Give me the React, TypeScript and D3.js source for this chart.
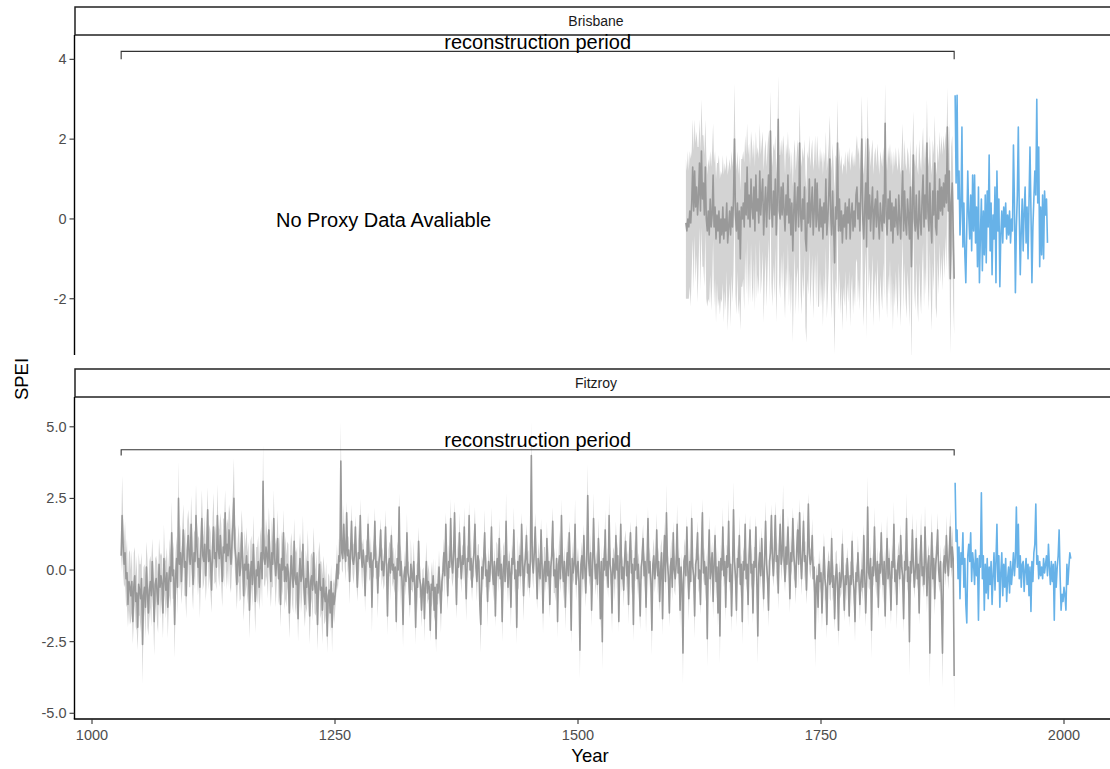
import React from 'react';
import * as d3 from 'd3';

// ---------------- DATA ----------------
const xTicks = [1000, 1250, 1500, 1750, 2000];
const brisbaneYTicks = [-2, 0, 2, 4];
const fitzroyYTicks = [-5, -2.5, 0, 2.5, 5];
const periodStart = 1030;
const periodEnd = 1887;

const fitzroyReconStart = 1030;
const fitzroyRecon = [
  0.5, 1.9, 0.9, 0.2, 0.6, -0.3, -0.1, -1.2, -0.4, -0.6,
  -0.9, -0.4, -1.8, -0.6, -0.2, -1.1, -0.8, -2.0, -0.5, -0.7,
  -1.0, -0.3, -2.6, -0.9, -0.6, -1.3, 0.1, -0.8, -1.5, -0.7,
  -0.4, -0.9, 0.3, -0.7, -1.8, -0.5, -0.3, -0.8, -1.2, 0.2,
  -0.6, -0.2, -0.5, -1.5, 0.4, -0.3, -0.7, -0.1, -1.3, -0.4,
  0.1, -0.4, 1.3, -0.2, 0.0, -1.9, -0.3, 0.4, -0.6, 2.5,
  0.2, 0.6, -0.4, 0.5, 1.4, 0.1, 0.3, -0.9, 0.7, 1.2,
  0.5, 0.2, 1.6, 0.4, -0.5, 0.6, 0.3, 1.9, 0.8, 0.1,
  0.4, -0.6, 0.7, 1.8, 0.5, 0.3, 0.9, -0.2, 0.6, 2.1,
  0.3, 0.7, 0.2, -0.7, 0.8, 1.5, 0.4, 0.6, 0.1, 1.9,
  0.7, 0.4, 1.2, 0.5, -0.4, 0.8, 0.6, 2.0, 0.3, 0.9,
  0.5, 1.4, 0.7, 0.2, 0.9, 1.6, 2.5, 0.8, 0.4, -0.5,
  0.3, 0.6, -0.2, 0.1, 1.3, 0.4, -0.9, 0.2, 0.0, 0.5,
  -0.3, 0.2, -1.4, -0.1, 0.3, -0.5, 0.9, -0.2, -1.1, 0.0,
  -0.2, 0.3, -0.6, 0.1, 0.6, -0.3, 3.1, 0.4, 0.2, 0.8,
  0.5, 0.1, 1.4, 0.3, -0.4, 0.6, 0.2, 1.8, 0.4, -0.2,
  0.3, 1.1, -0.3, 0.2, -1.2, 0.4, 0.0, 1.3, -0.4, 0.1,
  -0.4, 0.2, -0.1, -1.5, -0.3, 0.5, -0.2, -0.6, 1.0, -0.3,
  -0.5, -0.1, -1.7, -0.3, 0.4, -0.4, -0.2, 0.9, -0.6, -1.2,
  -0.3, -0.6, 0.3, -0.5, -1.6, -0.4, -0.2, -0.7, 0.6, -0.5,
  -0.8, -0.4, -1.9, -0.5, 0.2, -0.7, -0.6, -1.4, -0.3, -0.9,
  -1.1, -0.6, -2.3, -0.9, -0.7, -1.5, -0.4, -2.0, -0.8, -1.2,
  -0.9, -0.5, 0.2, -0.3, 0.5, 0.3, 3.8, 0.6, 0.4, 1.6,
  0.6, 0.3, 2.0, 0.5, 0.7, -0.4, 0.6, 1.7, 0.4, 0.2,
  0.5, 1.5, 0.3, -0.6, 0.6, 0.4, 1.9, 0.5, 0.1, 0.7,
  0.2, -0.9, 0.5, 0.3, 1.6, 0.4, 0.1, 0.6, -1.3, 0.3,
  0.4, 1.7, 0.1, 0.3, -0.8, 0.2, 0.5, 1.4, 0.0, 0.3,
  -0.2, 0.3, 1.5, 0.1, -1.6, 0.2, 0.4, -0.1, 1.2, 0.0,
  0.2, -0.3, 0.1, -1.8, 0.4, 0.0, 2.2, -0.2, 0.3, -0.4,
  -1.9, -0.2, 0.1, -0.4, 1.3, -0.1, -0.3, -1.2, 0.2, -0.2,
  -0.4, 0.3, -0.5, -2.0, -0.2, -0.6, 1.0, -0.3, -0.5, -1.4,
  -0.6, -0.3, -1.7, -0.5, 0.3, -0.8, -0.4, -0.6, -2.1, -0.5,
  -0.7, -0.2, -1.4, -0.6, -2.4, -0.5, -0.8, 0.1, -0.7, -1.5,
  -0.4, -0.1, 0.6, -0.2, 1.6, 0.2, -0.9, 0.3, 0.1, 1.8,
  0.3, -0.1, 0.5, 2.0, 0.2, -1.2, 0.4, 0.1, 1.3, 0.3,
  -0.3, 0.5, 0.2, 1.5, 0.1, -1.0, 0.4, 0.3, 1.9, 0.0,
  0.4, -0.6, 0.2, 0.6, 1.6, 0.1, -0.4, 0.5, 0.3, -1.2,
  -1.9, 0.1, -0.3, 0.4, 1.3, -0.2, 0.0, -1.1, 0.3, -0.4,
  0.2, 1.5, -0.1, -0.5, 0.3, -1.6, 0.1, 0.4, -0.2, 1.1,
  -0.3, 0.2, -1.8, 0.0, 0.5, -0.4, 1.7, 0.1, -0.6, 0.3,
  -0.1, -1.3, 0.4, 0.2, 1.4, -0.3, 0.0, -2.0, 0.3, -0.2,
  0.5, -0.2, 1.6, 0.3, -0.9, 0.1, 0.4, 1.2, -0.1, 0.2,
  -0.6, 0.4, 4.0, 0.3, -0.1, 0.6, 1.5, 0.2, -1.0, 0.4,
  0.1, -0.3, 1.4, 0.2, -1.5, 0.0, 0.3, -0.4, 1.1, -0.2,
  0.3, -1.2, 0.1, 0.5, 1.7, -0.2, 0.0, -0.6, 0.4, -1.8,
  0.2, 0.5, -0.3, 1.9, 0.1, -0.4, 0.3, -1.3, 0.0, 0.6,
  -0.2, 1.3, 0.1, -2.1, 0.4, -0.1, 0.2, 1.6, -0.5, 0.0,
  0.3, -0.4, -2.8, 0.2, 0.5, -0.3, 1.2, 0.1, -0.8, 0.4,
  2.6, 0.3, -0.2, 0.6, -1.4, 0.1, 1.8, 0.4, -0.3, 0.2,
  -0.5, 1.1, 0.2, -1.7, 0.3, -2.5, 0.4, 0.0, 1.4, -0.2,
  0.3, -0.6, 1.9, 0.2, -0.1, -1.5, 0.4, 0.1, -0.3, 1.2,
  0.0, 0.5, -1.8, 0.2, 1.6, -0.3, 0.1, -0.7, 0.4, 1.0,
  -0.2, 0.3, -1.2, 0.5, 1.3, -0.1, 0.2, -1.9, 0.4, 0.0,
  1.5, -0.3, 0.2, -0.5, -1.6, 0.1, 0.4, 1.1, -0.2, 0.3,
  -1.3, 0.2, 1.8, -0.1, 0.3, -0.4, -2.1, 0.2, 0.5, -0.3,
  0.1, 1.4, -0.2, 0.3, -1.1, 0.0, 0.6, -1.7, 0.2, 1.2,
  -0.4, 2.0, 0.3, -0.2, -1.5, 0.1, 0.4, -0.6, 1.3, 0.0,
  -0.3, 0.2, 1.6, -0.1, 0.4, -1.4, 0.1, -0.5, -2.9, 0.3,
  0.5, -0.2, 1.5, 0.0, -1.0, 0.3, -0.4, 1.8, 0.1, -0.2,
  -1.6, 0.2, 0.4, 1.3, -0.3, 0.0, -1.2, 0.5, 2.0, -0.1,
  0.3, -0.5, 0.1, -2.4, 0.2, 1.4, -0.3, 0.0, 0.6, -1.1,
  0.2, 1.2, -0.4, 0.1, -1.5, 0.3, -2.3, 0.4, 0.0, 1.5,
  -0.2, 0.3, -1.3, 0.5, 0.1, 1.7, -0.4, 0.2, -1.6, 0.0,
  2.1, 0.3, -0.2, -1.4, 0.4, 0.1, 1.2, -0.5, 0.2, -1.8,
  0.3, 0.0, 1.6, -0.3, 0.2, -1.2, 0.5, 1.4, -0.1, 0.2,
  -1.5, 0.3, 0.1, 1.5, -0.4, -2.3, 0.2, 0.6, -0.2, 1.1,
  0.0, -1.0, 0.4, 1.7, 0.2, -0.3, -1.4, 0.3, 0.6, 1.9,
  0.4, -0.2, 0.6, 1.9, 0.3, 0.5, -0.8, 0.7, 1.6, 0.2,
  0.5, 2.1, 0.3, -0.4, 0.8, 0.2, 1.5, 0.4, -1.0, 0.6,
  0.3, 1.8, 0.5, 0.1, -0.6, 0.7, 1.4, 0.2, 2.0, 0.4,
  -0.3, 0.6, 1.7, 0.3, 0.5, -0.7, 0.4, 2.3, 0.6, 0.2,
  0.4, 1.2, -0.3, 0.1, -2.4, -0.5, -0.2, -1.3, 0.2, -0.4,
  -0.1, -1.5, -0.4, 0.8, -0.3, -0.6, -1.9, -0.2, 0.3, -0.5,
  -0.4, 1.1, -0.6, -0.2, -1.7, -0.3, 0.2, -0.5, -2.1, -0.1,
  -0.6, -0.3, 0.9, -0.4, -1.4, -0.2, -0.5, 0.4, -0.3, -1.6,
  -0.2, -0.5, 1.0, -0.3, -0.7, -1.8, -0.1, -0.4, 0.6, -0.3,
  -1.2, -0.4, 0.0, -0.6, 1.2, -0.2, -1.5, -0.3, 2.2, -0.1,
  -0.3, 0.4, -2.1, 0.1, -0.2, 1.5, 0.0, -0.4, 0.3, -1.3,
  0.2, -0.1, 1.3, 0.0, -0.5, 0.3, -1.6, 0.1, 1.1, -0.3,
  0.4, -0.2, -1.4, 0.3, 0.1, 1.6, -0.4, 0.0, -1.2, 0.2,
  0.5, -0.3, 1.2, 0.1, -0.2, -1.7, 0.3, 0.0, 1.8, -0.4,
  0.1, -2.5, 0.3, -0.1, 1.4, 0.2, -0.6, 0.0, 1.1, -0.3,
  0.2, -1.5, 0.4, 1.2, -0.2, 0.1, -0.5, 1.5, 0.3, -0.9,
  0.2, 0.5, -2.9, 0.1, 1.3, -0.3, 0.4, -1.0, 0.2, 0.6,
  1.4, 0.0, -0.4, 0.3, -1.2, -2.9, 0.2, 0.5, -0.1, 1.2,
  0.3, -0.2, 0.6, 1.5, 0.1, 0.8, 0.4, -3.7,
];

const fitzroySpread = [
  0.6, 1.4, 1.0, 0.8, 1.1, 0.9, 1.2, 0.8, 1.0, 1.3,
  0.9, 1.1, 0.8, 1.2, 1.0, 0.9, 1.3, 0.8, 1.1, 0.9,
  1.2, 0.9, 1.4, 1.0, 0.8, 1.1, 0.9, 1.2, 0.8, 1.0,
  0.9, 1.1, 0.8, 1.0, 1.2, 0.9, 0.8, 1.1, 1.0, 0.9,
  1.1, 0.8, 1.0, 0.9, 1.2, 0.8, 1.0, 0.9, 1.1, 0.8,
  1.0, 0.9, 1.1, 0.8, 1.0, 1.2, 0.9, 0.8, 1.0, 1.3,
  0.9, 1.0, 0.8, 1.1, 0.9, 1.0, 1.2, 0.8, 1.0, 0.9,
  1.1, 0.8, 1.0, 1.2, 0.9, 0.8, 1.0, 1.1, 0.9, 1.0,
  0.8, 1.1, 0.9, 1.0, 1.2, 0.8, 1.0, 0.9, 1.1, 0.8,
  1.0, 0.9, 1.1, 0.8, 1.0, 1.2, 0.9, 1.0, 0.8, 1.1,
  0.9, 1.0, 0.8, 1.1, 0.9, 1.0, 1.2, 0.8, 1.0, 0.9,
  1.1, 0.9, 1.3, 1.0, 0.9, 1.2, 1.4, 0.8, 1.0, 0.9,
  0.8, 1.0, 0.9, 1.1, 0.8, 1.0, 0.9, 1.2, 0.8, 1.0,
  0.9, 0.8, 1.0, 1.1, 0.9, 0.8, 1.0, 0.9, 1.1, 0.8,
  1.0, 0.9, 0.8, 1.1, 0.9, 1.0, 1.3, 0.9, 0.8, 1.0,
  0.9, 1.1, 0.8, 1.0, 0.9, 1.2, 0.8, 1.0, 0.9, 1.1,
  0.8, 1.0, 0.9, 1.1, 0.8, 1.0, 0.9, 0.8, 1.0, 1.1,
  0.9, 0.8, 1.0, 0.9, 1.1, 0.8, 1.0, 0.9, 0.8, 1.0,
  1.1, 0.9, 0.8, 1.0, 0.9, 1.1, 0.8, 1.0, 0.9, 0.8,
  1.0, 0.9, 1.1, 0.8, 1.0, 0.9, 0.8, 1.1, 0.9, 1.0,
  0.8, 1.0, 0.9, 1.1, 0.8, 1.0, 0.9, 1.2, 0.8, 1.0,
  0.7, 0.9, 0.6, 0.8, 0.5, 0.7, 0.6, 0.9, 0.5, 0.7,
  0.6, 0.5, 0.7, 0.4, 0.6, 0.5, 1.4, 0.6, 0.5, 0.7,
  0.5, 0.7, 0.4, 0.6, 0.5, 0.8, 0.4, 0.6, 0.5, 0.7,
  0.6, 0.4, 0.7, 0.5, 1.0, 0.4, 0.6, 0.5, 0.8, 0.4,
  0.4, 0.6, 0.5, 0.8, 0.4, 0.7, 0.5, 0.6, 0.9, 0.5,
  0.7, 0.5, 0.4, 0.6, 0.9, 0.5, 0.7, 0.4, 0.6, 0.5,
  0.5, 0.8, 0.6, 0.4, 0.7, 0.5, 0.6, 1.0, 0.4, 0.6,
  0.6, 0.5, 0.7, 0.4, 0.6, 0.8, 0.5, 1.1, 0.4, 0.6,
  0.8, 0.4, 0.6, 0.5, 0.7, 0.4, 0.6, 0.5, 0.9, 0.5,
  0.4, 0.7, 0.5, 0.6, 0.4, 0.9, 0.5, 0.7, 0.4, 0.6,
  0.6, 0.4, 0.8, 0.5, 0.7, 0.4, 0.6, 0.5, 0.4, 0.8,
  0.5, 0.6, 0.4, 1.0, 0.5, 0.7, 0.4, 0.6, 0.5, 0.7,
  0.4, 0.6, 0.5, 0.8, 0.4, 0.9, 0.5, 0.6, 0.4, 0.7,
  0.6, 0.5, 0.7, 0.4, 0.9, 0.5, 0.6, 0.4, 0.7, 0.5,
  0.5, 0.4, 0.6, 0.7, 0.5, 0.8, 0.4, 0.6, 0.5, 0.4,
  0.7, 0.5, 0.4, 0.9, 0.6, 0.5, 0.7, 0.4, 0.6, 0.5,
  1.0, 0.4, 0.6, 0.5, 0.8, 0.4, 0.6, 0.9, 0.5, 0.4,
  0.5, 0.7, 0.4, 0.6, 0.5, 0.4, 0.9, 0.5, 0.6, 0.7,
  0.4, 0.6, 0.7, 0.8, 0.5, 0.4, 1.0, 0.5, 0.6, 0.4,
  0.6, 0.7, 0.5, 0.4, 0.8, 0.5, 0.4, 0.6, 0.9, 0.5,
  0.5, 0.6, 0.4, 0.7, 0.9, 0.5, 0.6, 0.4, 0.7, 0.5,
  0.4, 0.7, 1.2, 0.5, 0.6, 0.4, 0.5, 0.8, 0.4, 0.6,
  0.5, 0.6, 0.4, 0.5, 0.7, 0.8, 0.5, 0.4, 0.6, 0.5,
  0.6, 0.5, 0.4, 0.7, 0.5, 0.6, 0.8, 0.5, 0.4, 0.6,
  0.4, 0.9, 0.5, 0.6, 0.4, 0.7, 0.5, 0.8, 0.4, 0.6,
  0.7, 0.4, 0.8, 0.5, 0.6, 0.4, 0.5, 0.9, 0.6, 0.4,
  0.5, 0.6, 1.0, 0.4, 0.5, 0.7, 0.4, 0.6, 0.5, 0.6,
  1.1, 0.5, 0.4, 0.7, 0.6, 0.5, 0.9, 0.4, 0.6, 0.5,
  0.6, 0.7, 0.5, 0.4, 0.6, 1.0, 0.5, 0.4, 0.7, 0.5,
  0.5, 0.4, 0.8, 0.6, 0.5, 0.7, 0.4, 0.6, 0.8, 0.5,
  0.7, 0.5, 0.4, 0.6, 0.9, 0.5, 0.4, 0.6, 0.7, 0.4,
  0.6, 0.4, 0.7, 0.5, 0.4, 0.8, 0.5, 0.6, 0.7, 0.4,
  0.5, 0.6, 0.4, 0.8, 0.5, 0.4, 0.7, 0.5, 0.6, 0.4,
  0.9, 0.5, 0.4, 0.6, 0.5, 0.4, 0.9, 0.5, 0.6, 0.5,
  0.4, 0.6, 0.7, 0.5, 0.4, 0.8, 0.5, 0.6, 0.4, 0.5,
  0.5, 1.0, 0.4, 0.6, 0.5, 0.4, 0.7, 0.5, 0.4, 0.7,
  0.6, 0.4, 0.7, 0.5, 0.4, 0.6, 0.5, 0.4, 1.1, 0.5,
  0.6, 0.5, 0.4, 0.6, 0.8, 0.5, 0.4, 0.6, 0.5, 0.4,
  0.8, 0.5, 0.6, 0.4, 0.5, 0.6, 0.4, 0.8, 0.5, 0.4,
  0.5, 0.6, 0.5, 1.0, 0.4, 0.5, 0.7, 0.5, 0.4, 0.6,
  0.5, 0.4, 0.6, 0.7, 0.5, 0.4, 1.0, 0.5, 0.4, 0.7,
  0.4, 0.6, 0.5, 0.4, 0.6, 0.8, 0.4, 0.5, 0.6, 0.4,
  1.0, 0.5, 0.4, 0.6, 0.5, 0.4, 0.7, 0.5, 0.4, 0.8,
  0.5, 0.6, 0.4, 0.5, 0.6, 0.8, 0.4, 0.5, 0.6, 0.7,
  0.4, 0.5, 0.7, 0.4, 0.5, 1.0, 0.4, 0.6, 0.5, 0.4,
  0.6, 0.5, 0.4, 0.7, 0.5, 0.4, 0.6, 0.5, 0.8, 0.4,
  0.5, 0.4, 0.7, 0.5, 0.9, 0.4, 0.6, 0.5, 0.4, 0.6,
  0.4, 0.9, 0.5, 0.4, 0.7, 0.5, 0.4, 0.8, 0.5, 0.6,
  0.5, 0.4, 0.8, 0.5, 0.6, 0.6, 0.4, 0.9, 0.5, 0.4,
  0.6, 0.5, 0.4, 0.7, 0.5, 0.5, 1.0, 0.4, 0.6, 0.5,
  0.4, 0.6, 0.5, 0.4, 1.0, 0.5, 0.4, 0.6, 0.5, 0.4,
  0.5, 0.6, 0.4, 0.5, 0.8, 0.4, 0.5, 0.6, 0.4, 0.5,
  0.7, 0.4, 0.5, 0.6, 0.4, 0.9, 0.5, 0.4, 0.6, 0.5,
  0.4, 0.5, 0.6, 0.7, 0.4, 0.5, 0.6, 0.4, 0.5, 0.4,
  0.5, 0.8, 0.4, 0.5, 0.6, 0.7, 0.4, 0.5, 0.6, 0.4,
  0.6, 0.4, 0.7, 0.5, 0.4, 0.6, 0.5, 0.4, 1.1, 0.5,
  0.4, 0.6, 1.0, 0.5, 0.4, 0.7, 0.5, 0.6, 0.5, 0.4,
  0.5, 0.6, 0.4, 0.5, 0.7, 0.4, 0.5, 0.6, 0.8, 0.4,
  0.4, 0.7, 0.5, 0.6, 0.4, 0.8, 0.5, 0.4, 0.9, 0.5,
  0.5, 0.6, 0.4, 0.5, 0.7, 0.5, 0.4, 0.5, 0.9, 0.4,
  0.6, 1.2, 0.5, 0.4, 0.6, 0.5, 0.4, 0.5, 0.7, 0.4,
  0.6, 0.4, 0.5, 0.8, 0.4, 0.6, 0.5, 0.8, 0.4, 0.6,
  0.5, 0.4, 1.2, 0.5, 0.7, 0.4, 0.5, 0.6, 0.6, 0.4,
  0.6, 0.5, 0.4, 0.6, 0.5, 1.2, 0.5, 0.4, 0.5, 0.7,
  0.4, 0.5, 0.6, 0.6, 0.4, 0.7, 0.5, 1.3,
];

const brisbaneReconStart = 1611;
const brisbaneRecon = [
  -0.1, -0.3, 0.0, -0.2, 0.2, -0.1, 0.4, 1.3, 0.2,
  1.2, 0.3, 0.8, 0.1, 0.6, 1.4, 0.2, 1.7, 0.5, 0.9,
  0.1, 1.3, 0.0, -0.3, 0.2, -0.4, 0.5, -0.2, 0.1, 1.1,
  -0.2, 0.3, -0.5, 0.1, -0.3, 0.2, -0.6, 0.0, -0.4, 0.3,
  -0.5, 0.0, -0.3, 0.4, -0.6, -0.2, 0.2, -0.4, 0.3, -0.2,
  0.5, 2.0, 0.1, -0.3, 0.4, -0.5, 0.2, -1.0, 0.3, 0.0,
  0.4, -0.2, 0.9, 0.1, 1.3, 0.0, 0.6, -0.2, 1.0, 0.3,
  0.0, 0.8, -0.3, 1.1, 0.2, 0.5, -0.1, 1.2, 0.1, 0.6,
  1.0, -0.4, 0.3, 0.8, -0.2, 0.5, 1.1, 0.0, 2.2, 0.3,
  -0.2, 0.7, 0.1, 1.0, -0.4, 0.4, 2.5, 0.2, 0.0, 0.8,
  0.1, 0.9, 0.2, -0.3, 0.6, 0.1, 1.1, -0.1, 0.5, -0.4,
  0.4, -0.8, 0.2, 0.9, -0.3, 0.3, 0.8, -0.2, 1.9, 0.1,
  -0.3, 0.5, 0.0, 0.8, -0.5, -0.8, 0.4, -0.1, 1.0, -0.2,
  0.3, 0.8, -0.4, 0.2, 1.0, -0.2, 0.9, 0.0, -0.3, 0.5,
  -0.2, 0.3, -0.5, 0.4, -0.1, 1.0, -0.4, 0.0, 0.6, 1.5,
  0.1, -0.4, 0.7, -0.2, -1.1, 0.3, 0.0, 1.9, -0.3, 0.5,
  -0.3, 0.2, -0.6, 0.1, -0.2, 0.4, -0.5, 0.3, -0.1, 0.5,
  -0.5, 0.1, 0.4, -0.3, 0.2, -0.2, 0.6, 0.8, 0.0, 0.4,
  -0.3, 0.7, 2.0, 0.0, -0.5, 0.3, 0.9, -0.7, 2.0, 0.0,
  0.6, -0.3, 0.3, 0.8, -0.5, 0.2, 0.5, -0.2, 0.7, 0.0,
  -0.5, 0.4, 0.0, -0.3, 0.6, -0.1, 2.4, 0.1, -0.4, 0.5,
  0.0, 0.7, -0.3, 0.4, -0.6, 0.3, -0.2, 0.5, -0.1, -0.4,
  0.6, 0.0, -0.5, 0.4, 1.2, -0.3, 0.7, -0.1, -0.4, 0.5,
  0.1, -0.5, 0.8, -1.2, 0.2, 1.6, 0.0, -0.3, 0.6, -0.2,
  -0.5, 0.7, 0.0, -0.4, 0.5, 1.1, -0.2, 0.6, 0.0, 1.9,
  0.2, -0.3, 0.9, -0.1, -0.6, 0.7, 0.1, 1.4, -0.2, -0.4,
  0.7, 0.0, 1.0, 0.2, 0.8, 0.1, 0.9, 0.3, 1.1, 0.4,
  2.3, 0.2, 1.2, -1.5, 0.4, 0.9, -0.3, -1.5,
];

const brisbaneSpreadUp = [
  1.6, 1.5, 1.7, 1.4, 1.5, 1.6, 1.3, 1.2, 1.5,
  1.3, 1.6, 1.4, 1.7, 1.2, 1.1, 1.5, 1.3, 1.6, 1.2,
  1.5, 1.2, 1.6, 1.4, 1.3, 1.7, 1.2, 1.5, 1.6, 1.3,
  1.6, 1.4, 1.5, 1.3, 1.7, 1.4, 1.6, 1.2, 1.5, 1.3,
  1.6, 1.4, 1.5, 1.2, 1.7, 1.5, 1.3, 1.6, 1.4, 1.5,
  1.2, 1.4, 1.6, 1.5, 1.3, 1.6, 1.4, 1.7, 1.2, 1.5,
  1.3, 1.6, 1.2, 1.5, 1.1, 1.6, 1.3, 1.5, 1.2, 1.6,
  1.5, 1.2, 1.6, 1.1, 1.4, 1.3, 1.6, 1.2, 1.5, 1.3,
  1.2, 1.6, 1.4, 1.2, 1.5, 1.3, 1.1, 1.6, 1.0, 1.4,
  1.5, 1.2, 1.6, 1.1, 1.5, 1.3, 1.1, 1.4, 1.6, 1.2,
  1.5, 1.2, 1.6, 1.4, 1.3, 1.5, 1.1, 1.6, 1.3, 1.5,
  1.3, 1.6, 1.4, 1.1, 1.5, 1.3, 1.2, 1.6, 1.0, 1.5,
  1.6, 1.3, 1.5, 1.2, 1.6, 1.5, 1.3, 1.6, 1.1, 1.5,
  1.4, 1.2, 1.6, 1.3, 1.1, 1.5, 1.2, 1.6, 1.5, 1.3,
  1.6, 1.4, 1.6, 1.3, 1.5, 1.2, 1.6, 1.5, 1.3, 1.1,
  1.5, 1.6, 1.2, 1.5, 1.7, 1.3, 1.5, 1.1, 1.6, 1.3,
  1.6, 1.4, 1.7, 1.3, 1.5, 1.3, 1.6, 1.4, 1.5, 1.3,
  1.7, 1.4, 1.3, 1.6, 1.4, 1.5, 1.2, 1.3, 1.6, 1.4,
  1.5, 1.3, 1.1, 1.5, 1.6, 1.3, 1.2, 1.6, 1.1, 1.5,
  1.3, 1.6, 1.4, 1.2, 1.6, 1.4, 1.3, 1.5, 1.2, 1.5,
  1.6, 1.3, 1.5, 1.6, 1.2, 1.5, 1.0, 1.4, 1.6, 1.3,
  1.5, 1.2, 1.6, 1.3, 1.7, 1.4, 1.5, 1.3, 1.5, 1.6,
  1.2, 1.4, 1.6, 1.3, 1.2, 1.5, 1.3, 1.5, 1.6, 1.3,
  1.5, 1.6, 1.2, 1.7, 1.4, 1.1, 1.5, 1.6, 1.3, 1.5,
  1.6, 1.3, 1.5, 1.6, 1.3, 1.2, 1.5, 1.3, 1.5, 1.1,
  1.4, 1.6, 1.2, 1.5, 1.7, 1.3, 1.5, 1.2, 1.6, 1.5,
  1.2, 1.4, 1.2, 1.4, 1.3, 1.5, 1.2, 1.4, 1.1, 1.3,
  1.0, 1.4, 1.2, 1.6, 1.4, 1.2, 1.4, 1.1,
];

const brisbaneSpreadDown = [
  1.9, 1.7, 2.0, 1.8, 1.9, 2.1, 1.7, 1.8, 2.0,
  1.6, 1.9, 1.7, 2.2, 1.8, 1.6, 2.0, 1.9, 1.7, 2.1,
  1.8, 1.6, 2.0, 1.9, 2.2, 1.7, 1.9, 2.1, 1.8, 1.6,
  2.0, 1.8, 2.1, 1.7, 1.9, 2.2, 1.8, 2.0, 1.7, 1.9,
  2.1, 1.8, 2.0, 1.7, 2.2, 1.9, 1.8, 2.3, 1.7, 1.9,
  1.8, 1.6, 2.0, 2.1, 1.7, 1.9, 2.2, 1.8, 2.0, 1.7,
  1.9, 2.1, 1.7, 2.0, 1.8, 2.2, 1.7, 1.9, 1.6, 2.0,
  2.1, 1.8, 2.0, 1.7, 2.2, 1.9, 1.8, 1.7, 2.0, 2.1,
  1.8, 2.2, 1.9, 1.7, 2.0, 1.8, 1.6, 2.1, 1.5, 1.9,
  2.0, 1.8, 2.1, 1.7, 2.2, 1.9, 1.4, 1.8, 2.0, 1.7,
  1.9, 1.7, 2.0, 2.2, 1.8, 1.9, 1.7, 2.1, 1.8, 2.0,
  1.8, 2.3, 1.9, 1.7, 2.1, 1.8, 2.0, 2.2, 1.6, 1.9,
  2.1, 1.8, 2.0, 1.7, 2.2, 2.3, 1.9, 1.8, 1.7, 2.0,
  1.9, 1.7, 2.1, 1.8, 1.9, 2.0, 1.7, 2.2, 1.9, 1.8,
  2.0, 1.9, 2.2, 1.8, 2.0, 1.7, 2.1, 1.9, 1.8, 1.6,
  1.9, 2.1, 1.7, 2.0, 2.3, 1.8, 1.9, 1.5, 2.0, 1.8,
  2.1, 1.9, 2.2, 1.8, 2.0, 1.7, 2.1, 1.9, 2.0, 1.8,
  2.2, 1.9, 1.8, 2.1, 1.9, 2.0, 1.7, 1.8, 2.1, 1.9,
  2.0, 1.8, 1.5, 1.9, 2.2, 1.8, 1.7, 2.3, 1.6, 1.9,
  1.8, 2.1, 1.9, 1.7, 2.2, 1.9, 1.8, 2.0, 1.7, 1.9,
  2.1, 1.8, 1.9, 2.0, 1.7, 1.9, 1.4, 1.8, 2.1, 1.9,
  1.9, 1.7, 2.1, 1.8, 2.2, 1.9, 2.0, 1.8, 1.9, 2.1,
  1.7, 1.9, 2.2, 1.8, 1.6, 2.0, 1.8, 1.9, 2.1, 1.8,
  1.9, 2.2, 1.7, 2.4, 1.9, 1.6, 1.8, 2.0, 1.7, 1.9,
  2.1, 1.8, 1.9, 2.0, 1.8, 1.7, 2.0, 1.8, 1.9, 1.6,
  1.8, 2.0, 1.7, 1.9, 2.2, 1.8, 1.9, 1.6, 2.0, 2.1,
  1.7, 1.9, 1.6, 1.8, 1.7, 1.9, 1.6, 1.8, 1.5, 1.7,
  1.4, 1.8, 1.6, 1.9, 1.8, 1.6, 1.8, 1.4,
];

const observedStart = 1888;
const brisbaneObserved = [
  3.1, 0.9, 3.1, 0.5, 1.2, -0.4, 0.3, 2.3, -0.7, 0.4,
  -0.9, -1.6, -0.2, 1.2, 0.1, -0.5, 0.6, -0.8, 1.1, -0.3,
  1.1, -0.6, 0.3, -1.2, 0.8, -1.6, -0.4, 0.5, -1.3, 0.2,
  -0.9, 0.6, -1.1, 0.7, -0.2, 1.6, -0.8, 0.4, -1.4, 0.1,
  -0.5, 0.8, -1.6, 1.2, -0.3, 0.5, -1.7, -0.4, 0.2, -0.6,
  0.3, -0.2, 0.4, -0.5, 0.1, -0.4, 0.2, -0.6, 0.0, -0.3,
  1.85, 0.4, -1.85, -0.2, 0.6, 2.3, 0.1, -1.4, -0.3, 0.5,
  -0.8, 0.2, 0.8, -0.6, 0.3, -1.0, 0.4, 1.8, 0.2, -1.6,
  -0.2, 0.5, 1.2, 0.6, 3.0, 0.4, 1.8, -1.2, 0.3, -0.9,
  0.6, -1.0, 0.7, 0.1, 0.5, -0.6,
];

const fitzroyObserved = [
  3.05, 1.0, 1.4, -0.3, 0.8, -1.0, 0.6, 0.2, 1.3, -0.6,
  0.4, -1.2, -1.85, 0.5, 0.9, 0.3, 1.3, -0.4, 0.6, 0.2,
  -0.5, 0.7, -0.2, 0.4, -1.75, 0.5, 0.1, 2.7, -0.3, 0.5,
  -1.4, 0.2, -0.8, 0.4, -1.0, 0.1, -0.5, 0.3, -1.2, -0.2,
  0.6, -0.7, 0.3, 1.6, -0.4, 0.5, -1.3, -0.1, 0.6, -0.9,
  0.2, -0.6, 0.4, -1.1, -0.3, 0.1, -0.8, 0.3, -0.5, 0.0,
  0.6, -0.2, 0.4, 2.2, 0.1, 1.6, -0.3, 0.5, -0.6, 0.2,
  0.3, -0.75, 0.0, 0.4, -0.5, 0.2, -0.9, 0.1, -1.45, 0.3,
  -0.4, 0.6, 0.9, 2.3, 0.2, 0.5, -0.3, 0.3, -0.2, 0.1,
  -0.3, 0.4, -0.1, 0.2, 0.5, -0.2, 0.9, 0.1, -0.5, 0.3,
  -0.4, 0.2, -1.75, 0.3, -0.6, 0.1, 0.5, 1.4, -0.2, -1.4,
  -0.85, -1.1, -0.6, -0.9, -1.4, 0.2, -0.5, 0.1, 0.6, 0.4,
];

// ---------------- CHART ----------------
type Pt = { year: number; v: number; up: number; dn: number };

const toPoints = (start: number, vals: number[], up?: number[], dn?: number[]): Pt[] =>
  vals.map((v, i) => ({
    year: start + i,
    v,
    up: up ? up[i] : 0,
    dn: dn ? dn[i] : 0,
  }));

const W = 1110;
const H = 769;
const PANEL_LEFT = 74.5;
const PANEL_RIGHT = 1117;
const FONT = "'Liberation Sans', Arial, Helvetica, sans-serif";

const x = d3.scaleLinear().domain([1000, 2000]).range([92, 1064]);

const panels = [
  {
    name: 'Brisbane',
    stripTop: 7,
    top: 35,
    bottom: 355,
    yDomain: [-3.41, 4.61],
    ticks: brisbaneYTicks,
    fmt: (d: number) => String(d),
    recon: toPoints(brisbaneReconStart, brisbaneRecon, brisbaneSpreadUp, brisbaneSpreadDown),
    obs: toPoints(observedStart, brisbaneObserved),
    noData: true,
    xAxis: false,
  },
  {
    name: 'Fitzroy',
    stripTop: 369,
    top: 397,
    bottom: 719,
    yDomain: [-5.2, 6.04],
    ticks: fitzroyYTicks,
    fmt: (d: number) => d.toFixed(1),
    recon: toPoints(fitzroyReconStart, fitzroyRecon, fitzroySpread, fitzroySpread),
    obs: toPoints(observedStart, fitzroyObserved),
    noData: false,
    xAxis: true,
  },
];

export default function App() {
  return (
    <svg
      width={W}
      height={H}
      viewBox={`0 0 ${W} ${H}`}
      style={{ position: 'absolute', left: 0, top: 0, background: '#fff', fontFamily: FONT }}
    >
      <rect x={0} y={0} width={W} height={H} fill="#fff" />
      {panels.map((p, pi) => {
        const y = d3.scaleLinear().domain(p.yDomain).range([p.bottom, p.top]);
        const area = d3
          .area<Pt>()
          .x((d) => x(d.year))
          .y0((d) => y(d.v - d.dn))
          .y1((d) => y(d.v + d.up));
        const line = d3
          .line<Pt>()
          .x((d) => x(d.year))
          .y((d) => y(d.v));
        const clipId = `clip-${pi}`;
        const bx0 = x(periodStart);
        const bx1 = x(periodEnd);
        const byTop = y(4.2);
        const byTick = y(4.0);
        return (
          <g key={p.name}>
            <defs>
              <clipPath id={clipId}>
                <rect x={PANEL_LEFT} y={p.top} width={PANEL_RIGHT - PANEL_LEFT} height={p.bottom - p.top} />
              </clipPath>
            </defs>
            <rect
              x={75}
              y={p.stripTop}
              width={PANEL_RIGHT - 75}
              height={p.top - p.stripTop}
              fill="#fff"
              stroke="#222"
              strokeWidth={1.5}
            />
            <text
              x={(75 + PANEL_RIGHT) / 2}
              y={(p.stripTop + p.top) / 2 + 5}
              textAnchor="middle"
              fontSize={14}
              fill="#1a1a1a"
            >
              {p.name}
            </text>
            <g clipPath={`url(#${clipId})`}>
              <path d={area(p.recon) || ''} fill="#d3d3d3" stroke="none" />
              <path d={line(p.recon) || ''} fill="none" stroke="#999999" strokeWidth={1.6} strokeLinejoin="round" />
              <path d={line(p.obs) || ''} fill="none" stroke="#67B2E8" strokeWidth={1.6} strokeLinejoin="round" />
            </g>
            <path
              d={`M${bx0},${byTick}V${byTop}H${bx1}V${byTick}`}
              fill="none"
              stroke="#333"
              strokeWidth={1.1}
            />
            <text
              x={x((periodStart + periodEnd) / 2)}
              y={byTop - 2.5}
              textAnchor="middle"
              fontSize={20}
              fill="#000"
            >
              reconstruction period
            </text>
            {p.noData && (
              <text x={x(1300)} y={y(0) + 8} textAnchor="middle" fontSize={20} fill="#000">
                No Proxy Data Avaliable
              </text>
            )}
            <line x1={PANEL_LEFT} x2={PANEL_LEFT} y1={p.top} y2={p.bottom} stroke="#000" strokeWidth={1.4} />
            {p.ticks.map((t) => (
              <g key={t}>
                <line x1={PANEL_LEFT - 5} x2={PANEL_LEFT} y1={y(t)} y2={y(t)} stroke="#333" strokeWidth={1.1} />
                <text x={PANEL_LEFT - 8} y={y(t) + 5} textAnchor="end" fontSize={14.5} fill="#4d4d4d">
                  {p.fmt(t)}
                </text>
              </g>
            ))}
            {p.xAxis && (
              <g>
                <line x1={PANEL_LEFT - 0.7} x2={PANEL_RIGHT} y1={p.bottom} y2={p.bottom} stroke="#000" strokeWidth={1.4} />
                {xTicks.map((t) => (
                  <g key={t}>
                    <line x1={x(t)} x2={x(t)} y1={p.bottom} y2={p.bottom + 5} stroke="#333" strokeWidth={1.1} />
                    <text x={x(t)} y={p.bottom + 21} textAnchor="middle" fontSize={14.5} fill="#4d4d4d">
                      {String(t)}
                    </text>
                  </g>
                ))}
              </g>
            )}
          </g>
        );
      })}
      <text x={x(1500) + 12} y={762} textAnchor="middle" fontSize={18.5} fill="#000">
        Year
      </text>
      <text transform="translate(28,379) rotate(-90)" textAnchor="middle" fontSize={18.5} fill="#000">
        SPEI
      </text>
    </svg>
  );
}
